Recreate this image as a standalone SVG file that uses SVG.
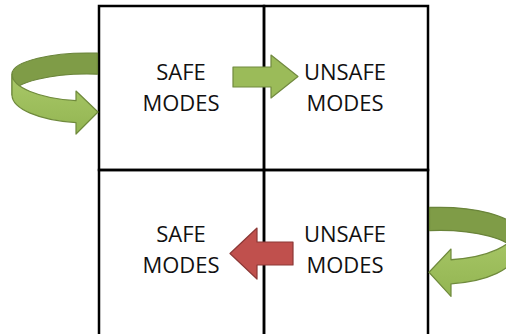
<svg xmlns="http://www.w3.org/2000/svg" width="506" height="334" viewBox="0 0 506 334">
  <defs>
    <style>
      .cell { fill: none; stroke: #000; stroke-width: 2.5; }
      .label { font-family: "Open Sans", "Liberation Sans", sans-serif; font-size: 22px; fill: #111; text-anchor: middle; }
      .go { fill: #9BBB59; stroke: #71893F; stroke-width: 1.2; stroke-linejoin: round; }
      .stop { fill: #C0504D; stroke: #8C3836; stroke-width: 1.2; stroke-linejoin: round; }
      .band-back { fill: #7F9C47; stroke: #6A843A; stroke-width: 1.2; stroke-linejoin: round; }
      .band-front { fill: url(#frontShade); stroke: #6F8A3C; stroke-width: 1.2; stroke-linejoin: round; }
    </style>
    <linearGradient id="frontShade" x1="0" y1="0" x2="0" y2="1">
      <stop offset="0" stop-color="#A9C868"/>
      <stop offset="1" stop-color="#93B552"/>
    </linearGradient>
    <!-- self-loop ribbon: back band on top, front band ending in the arrowhead -->
    <g id="loop">
      <path class="band-back" d="M12,74 A76 21 0 0 1 97.5,53.2 L97.5,74.2 A76 21 0 0 0 12,95 Z"/>
      <path class="band-front" d="M12,74 A76 27 0 0 0 76,100.7 L76,91 L98,112 L76,134 L76,122.6 A76 28 0 0 1 12,95 Z"/>
    </g>
  </defs>

  <!-- quadrants -->
  <g id="safe-top">
    <rect class="cell" x="99" y="6" width="165" height="164"/>
    <text class="label" x="181" y="80">SAFE</text>
    <text class="label" x="181" y="111">MODES</text>
  </g>
  <g id="unsafe-top">
    <rect class="cell" x="264" y="6" width="164" height="164"/>
    <text class="label" x="345" y="80">UNSAFE</text>
    <text class="label" x="345" y="111">MODES</text>
  </g>
  <g id="safe-bottom">
    <rect class="cell" x="99" y="170" width="165" height="180"/>
    <text class="label" x="181" y="242">SAFE</text>
    <text class="label" x="181" y="273">MODES</text>
  </g>
  <g id="unsafe-bottom">
    <rect class="cell" x="264" y="170" width="164" height="180"/>
    <text class="label" x="345" y="242">UNSAFE</text>
    <text class="label" x="345" y="273">MODES</text>
  </g>

  <g id="connectors">
    <!-- stay safe -->
    <use href="#loop"/>
    <!-- stay unsafe -->
    <use href="#loop" transform="translate(527,149) scale(-1,1.1)"/>
    <!-- safe to unsafe -->
    <path class="go" d="M233,67 L271,67 L271,55 L298,76.5 L271,98 L271,87 L233,87 Z"/>
    <!-- unsafe to safe -->
    <path class="stop" d="M293,242 L257,242 L257,228 L230,253.5 L257,279 L257,265 L293,265 Z"/>
  </g>
</svg>
